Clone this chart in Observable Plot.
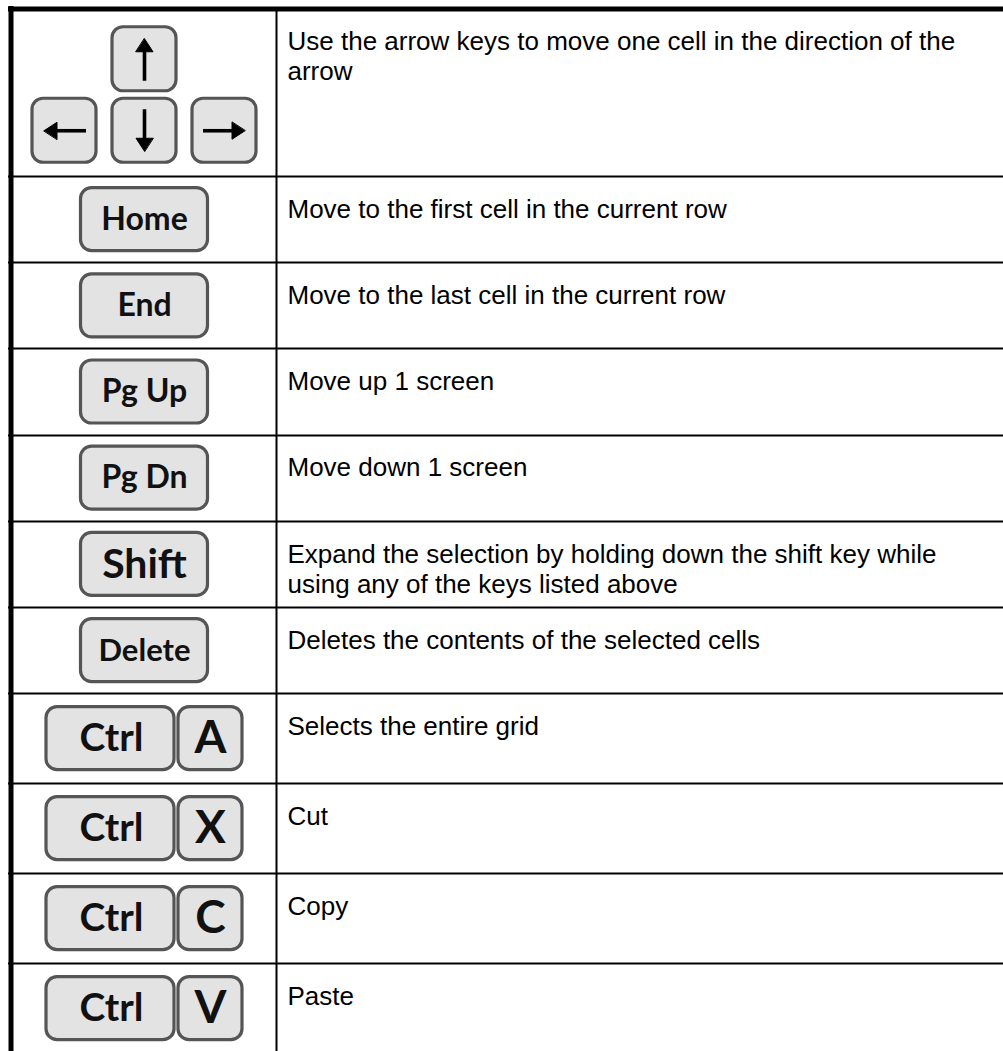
<!DOCTYPE html>
<html>
<head>
<meta charset="utf-8">
<script src="https://cdn.jsdelivr.net/npm/d3@7"></script>
<script src="https://cdn.jsdelivr.net/npm/@observablehq/plot@0.6"></script>
<style>
  html, body { margin: 0; padding: 0; background: #ffffff; }
  #chart svg { display: block; }
</style>
</head>
<body>
<div id="chart"></div>
<script>
// ---------- data ----------
const rowKeys = ["Arrows", "Home", "End", "Pg Up", "Pg Dn", "Shift", "Delete", "Ctrl+A", "Ctrl+X", "Ctrl+C", "Ctrl+V"];
const arrowKeys = ["up", "left", "down", "right"];
const descriptions = [
  "Use the arrow keys to move one cell in the direction of the\narrow",
  "Move to the first cell in the current row",
  "Move to the last cell in the current row",
  "Move up 1 screen",
  "Move down 1 screen",
  "Expand the selection by holding down the shift key while\nusing any of the keys listed above",
  "Deletes the contents of the selected cells",
  "Selects the entire grid",
  "Cut",
  "Copy",
  "Paste"
];

// ---------- layout ----------
const W = 1003, H = 1051;
const tableTop = 8.5;
const rowHeights = rowKeys.map((k, i) => i === 0 ? 167.5 : k.startsWith("Ctrl") ? 90 : 86.2);
const rowLines = [tableTop];
rowHeights.forEach(h => rowLines.push(rowLines[rowLines.length - 1] + h));
const colCenter = 144;      // centre of key column
const colDivider = 276;
const textX = 287;

// key boxes
const keyBoxes = [];
const keyTexts = [];
const arrowShafts = [];
const arrowHeads = [];
rowKeys.forEach((k, i) => {
  const top = rowLines[i], bottom = rowLines[i + 1];
  const cy = (top + bottom) / 2;
  if (k === "Arrows") {
    const c = cy + 2;
    const pos = {
      up: [colCenter, c - 35.5],
      left: [colCenter - 80, c + 36],
      down: [colCenter, c + 36],
      right: [colCenter + 80, c + 36]
    };
    const dir = {up: [0, -1], down: [0, 1], left: [-1, 0], right: [1, 0]};
    arrowKeys.forEach(a => {
      const [x, y] = pos[a];
      keyBoxes.push({x1: x - 32, x2: x + 32, y1: y - 32, y2: y + 32});
      const [dx, dy] = dir[a];
      const tip = [x + dx * 20.5, y + dy * 20.5];
      const tail = [x - dx * 21.5, y - dy * 21.5];
      const base = [tip[0] - dx * 13, tip[1] - dy * 13];
      arrowShafts.push({x1: tail[0], y1: tail[1], x2: base[0] + dx * 2, y2: base[1] + dy * 2});
      const px = -dy, py = dx;
      [[tip[0], tip[1]], [base[0] + px * 8.5, base[1] + py * 8.5], [base[0] - px * 8.5, base[1] - py * 8.5]]
        .forEach(p => arrowHeads.push({key: a, x: p[0], y: p[1]}));
    });
  } else if (k.startsWith("Ctrl")) {
    const letter = k.split("+")[1];
    const h = 63, gap = 4, wCtrl = 128, wL = 64;
    const left = colCenter - (wCtrl + gap + wL) / 2;
    keyBoxes.push({x1: left, x2: left + wCtrl, y1: cy - h / 2, y2: cy + h / 2});
    keyBoxes.push({x1: left + wCtrl + gap, x2: left + wCtrl + gap + wL, y1: cy - h / 2, y2: cy + h / 2});
    keyTexts.push({x: left + wCtrl / 2 + 1, y: cy, text: "Ctrl", size: 39});
    keyTexts.push({x: left + wCtrl + gap + wL / 2, y: cy, text: letter, size: 46});
  } else {
    const w = 127, h = 63;
    keyBoxes.push({x1: colCenter - w / 2, x2: colCenter + w / 2, y1: cy - h / 2, y2: cy + h / 2});
    keyTexts.push({x: colCenter, y: cy, text: k, size: k === "Shift" ? 41 : k === "Delete" ? 31 : 32});
  }
});

const descRows = descriptions.map((d, i) => ({text: d, y: rowLines[i] + 20}));
const innerLines = rowLines.slice(1, rowLines.length - 1).map(v => Math.round(v));

// ---------- plot ----------
const chart = Plot.plot({
  width: W,
  height: H,
  margin: 0,
  x: {domain: [0, W], range: [0, W], axis: null},
  y: {domain: [0, H], range: [0, H], axis: null},
  style: {background: "#ffffff", overflow: "visible"},
  marks: [
    // row separators
    Plot.ruleY(innerLines, {x1: () => 8, x2: () => W, stroke: "#000", strokeWidth: 2}),
    // column divider
    Plot.ruleX([colDivider], {y1: () => tableTop, y2: () => H, stroke: "#000", strokeWidth: 2}),
    // thick outer borders
    Plot.ruleY([tableTop], {x1: () => 8, x2: () => W, stroke: "#000", strokeWidth: 5}),
    Plot.ruleX([10.5], {y1: () => 6, y2: () => H, stroke: "#000", strokeWidth: 5}),
    // keys
    Plot.rect(keyBoxes, {x1: "x1", x2: "x2", y1: "y1", y2: "y2", rx: 11, ry: 11,
      fill: "#e3e3e3", stroke: "#555555", strokeWidth: 3.2}),
    Plot.text(keyTexts, {x: "x", y: "y", text: "text", fontSize: "size",
      fontFamily: "Lato, 'Open Sans', sans-serif", fontWeight: "bold", fill: "#111",
      lineAnchor: "middle", textAnchor: "middle"}),
    // arrows
    Plot.link(arrowShafts, {x1: "x1", y1: "y1", x2: "x2", y2: "y2", stroke: "#000", strokeWidth: 3.6}),
    Plot.line(arrowHeads, {x: "x", y: "y", z: "key", fill: "#000", stroke: "#000", strokeWidth: 1, curve: "linear-closed"}),
    // descriptions
    Plot.text(descRows, {x: () => textX, y: "y", text: "text", textAnchor: "start", lineAnchor: "top",
      fontSize: 26, lineHeight: 30 / 26, fontFamily: "'Liberation Sans', Arial, sans-serif", fill: "#000"})
  ]
});
document.getElementById("chart").append(chart);
</script>
</body>
</html>
